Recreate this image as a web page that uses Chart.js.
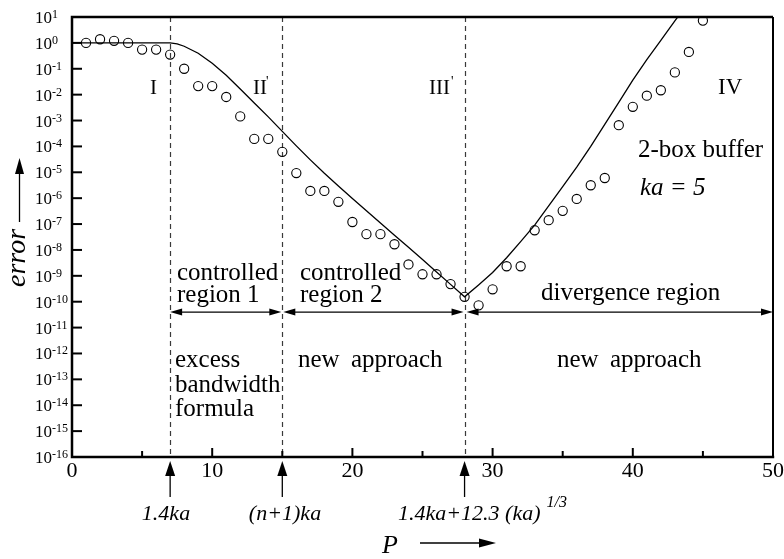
<!DOCTYPE html>
<html>
<head>
<meta charset="utf-8">
<script src="https://cdn.jsdelivr.net/npm/chart.js@4"></script>
<style>
  html, body { margin: 0; padding: 0; background: #fff; }
  #wrap { width: 784px; height: 559px; }
</style>
</head>
<body>
<div id="wrap"><canvas id="c" width="784" height="559"></canvas></div>
<script>
// Sampled error (circles): P and log10(error)
const samplePs = [1, 2, 3, 4, 5, 6, 7, 8, 9, 10, 11, 12, 13, 14, 15, 16, 17, 18, 19, 20,
  21, 22, 23, 24, 25, 26, 27, 28, 29, 30, 31, 32, 33, 34, 35, 36, 37, 38, 39, 40,
  41, 42, 43, 44, 45];
const sampleLogErr = [0.0, 0.14, 0.08, 0.0, -0.26, -0.26, -0.45, -1.0, -1.67, -1.67,
  -2.09, -2.84, -3.71, -3.71, -4.21, -5.03, -5.72, -5.72, -6.14, -6.92,
  -7.39, -7.39, -7.78, -8.56, -8.94, -8.94, -9.32, -9.81, -10.14, -9.52,
  -8.63, -8.63, -7.24, -6.85, -6.49, -6.03, -5.50, -5.22, -3.18, -2.47,
  -2.04, -1.83, -1.14, -0.35, 0.86];

// Estimated error (solid curve): P and log10(error)
const curvePs = [0, 7, 7.5, 8, 9, 10, 11, 12, 13, 14, 15, 16, 17, 18, 19, 20, 21, 22, 23, 24,
  25, 26, 27, 28, 29, 30, 31, 32, 33, 34, 35, 36, 37, 38, 39, 40, 41, 42, 43, 43.2];
const curveLogErr = [0, 0, -0.04, -0.13, -0.4, -0.79, -1.25, -1.78, -2.32, -2.86, -3.42,
  -3.98, -4.52, -5.04, -5.53, -6.01, -6.49, -6.96, -7.43, -7.9, -8.37, -8.85, -9.33, -9.81,
  -9.35, -8.87, -8.3, -7.68, -7.04, -6.3, -5.55, -4.8, -4.0, -3.15, -2.3, -1.44, -0.65,
  0.1, 0.85, 1.0];

// Axis ticks
const xTickValues = [0, 5, 10, 15, 20, 25, 30, 35, 40, 45, 50];
const xTickLabels = ['0', '', '10', '', '20', '', '30', '', '40', '', '50'];
const yDecades = [1, 0, -1, -2, -3, -4, -5, -6, -7, -8, -9, -10, -11, -12, -13, -14, -15, -16];

// Region boundaries and their formulas
const boundaryPs = [7, 15, 28];
const boundaryLabels = ['1.4ka', '(n+1)ka', '1.4ka+12.3 (ka)'];
const boundaryLabelSup = ['', '', '1/3'];

const SERIF = '"Liberation Serif", "Times New Roman", serif';

function toPoints(xs, ys) { return xs.map((x, i) => ({ x: x, y: ys[i] })); }

function arrowHead(ctx, tx, ty, dir, len, half) {
  // dir: 'l', 'r' or 'u'
  ctx.beginPath();
  if (dir === 'l') { ctx.moveTo(tx, ty); ctx.lineTo(tx + len, ty - half); ctx.lineTo(tx + len, ty + half); }
  else if (dir === 'r') { ctx.moveTo(tx, ty); ctx.lineTo(tx - len, ty - half); ctx.lineTo(tx - len, ty + half); }
  else { ctx.moveTo(tx, ty); ctx.lineTo(tx - half, ty + len); ctx.lineTo(tx + half, ty + len); }
  ctx.closePath();
  ctx.fill();
}

const decorations = {
  id: 'decorations',
  beforeDatasetsDraw(chart) {
    const { ctx, chartArea: a, scales: { x: xs } } = chart;
    ctx.save();
    ctx.strokeStyle = '#3a3a3a';
    ctx.lineWidth = 1.2;
    ctx.setLineDash([5, 4]);
    boundaryPs.forEach(p => {
      const px = Math.round(xs.getPixelForValue(p)) + 0.5;
      ctx.beginPath();
      ctx.moveTo(px, a.top);
      ctx.lineTo(px, a.bottom);
      ctx.stroke();
    });
    ctx.restore();
  },
  afterDraw(chart) {
    const { ctx, chartArea: a, scales: { x: xs, y: ys } } = chart;
    ctx.save();
    ctx.fillStyle = '#000';
    ctx.strokeStyle = '#000';

    // frame
    ctx.lineWidth = 2.5;
    ctx.beginPath();
    ctx.moveTo(a.left, a.top); ctx.lineTo(a.right, a.top);
    ctx.moveTo(a.left, a.top - 1.2); ctx.lineTo(a.left, a.bottom + 1.2);
    ctx.moveTo(a.left - 1.2, a.bottom); ctx.lineTo(a.right + 1.2, a.bottom);
    ctx.stroke();
    ctx.lineWidth = 2;
    ctx.beginPath();
    ctx.moveTo(a.right, a.top); ctx.lineTo(a.right, a.bottom);
    ctx.stroke();

    // y ticks and power-of-ten labels
    ctx.lineWidth = 2;
    yDecades.forEach(d => {
      const py = ys.getPixelForValue(d);
      ctx.beginPath();
      ctx.moveTo(a.left, py); ctx.lineTo(a.left + 10, py);
      ctx.stroke();
      ctx.font = '17px ' + SERIF;
      ctx.textAlign = 'left';
      ctx.textBaseline = 'alphabetic';
      ctx.fillText('10', 35, py + 6);
      const w = ctx.measureText('10').width;
      ctx.font = '12px ' + SERIF;
      ctx.fillText(String(d), 35 + w, py + 1);
    });

    // x ticks and labels
    xTickValues.forEach((v, i) => {
      const px = xs.getPixelForValue(v);
      const len = xTickLabels[i] ? 9 : 6;
      ctx.beginPath();
      ctx.moveTo(px, a.bottom); ctx.lineTo(px, a.bottom - len);
      ctx.stroke();
      if (xTickLabels[i]) {
        ctx.font = '22px ' + SERIF;
        ctx.textAlign = 'center';
        ctx.fillText(xTickLabels[i], px, 477);
      }
    });

    // region numerals
    ctx.textAlign = 'left';
    ctx.font = '21px ' + SERIF;
    ctx.fillText('I', 150, 94);
    ctx.fillText('II', 253, 94);
    ctx.fillText('III', 429, 94);
    ctx.font = '14px ' + SERIF;
    ctx.fillText('\'', 266, 86);
    ctx.fillText('\'', 451, 86);
    ctx.font = '23px ' + SERIF;
    ctx.fillText('IV', 718, 94);

    // case description
    ctx.font = '25px ' + SERIF;
    ctx.fillText('2-box buffer', 638, 157);
    ctx.font = 'italic 25px ' + SERIF;
    ctx.fillText('ka = 5', 640, 195);

    // region texts
    ctx.font = '25px ' + SERIF;
    ctx.fillText('controlled', 177, 280);
    ctx.fillText('region 1', 177, 302);
    ctx.fillText('controlled', 300, 280);
    ctx.fillText('region 2', 300, 302);
    ctx.fillText('divergence region', 541, 300);
    ctx.fillText('excess', 175, 367);
    ctx.fillText('bandwidth', 175, 392);
    ctx.fillText('formula', 175, 416);
    ctx.wordSpacing = '5px';
    ctx.fillText('new approach', 298, 367);
    ctx.fillText('new approach', 557, 367);
    ctx.wordSpacing = '0px';

    // region extent arrows
    const rowY = ys.getPixelForValue(-10.4);
    const bx = boundaryPs.map(p => xs.getPixelForValue(p));
    const spans = [[bx[0], bx[1] - 1], [bx[1] + 1, bx[2] - 1], [bx[2] + 2, a.right]];
    ctx.lineWidth = 1.3;
    spans.forEach(([l, r]) => {
      ctx.beginPath();
      ctx.moveTo(l + 4, rowY); ctx.lineTo(r - 4, rowY);
      ctx.stroke();
      arrowHead(ctx, l, rowY, 'l', 12, 3.5);
      arrowHead(ctx, r, rowY, 'r', 12, 3.5);
    });

    // boundary markers under the axis
    boundaryPs.forEach(p => {
      const px = xs.getPixelForValue(p);
      ctx.beginPath();
      ctx.moveTo(px, 497); ctx.lineTo(px, 470);
      ctx.stroke();
      arrowHead(ctx, px, 461, 'u', 15, 5);
    });
    ctx.font = 'italic 22px ' + SERIF;
    ctx.textAlign = 'center';
    ctx.fillText(boundaryLabels[0], 166, 520);
    ctx.fillText(boundaryLabels[1], 285, 520);
    ctx.textAlign = 'left';
    ctx.fillText(boundaryLabels[2], 398, 520);
    const w3 = ctx.measureText(boundaryLabels[2]).width;
    ctx.font = 'italic 16px ' + SERIF;
    ctx.fillText(boundaryLabelSup[2], 398 + w3 + 6, 507);

    // axis titles
    ctx.font = 'italic 26px ' + SERIF;
    ctx.fillText('P', 382, 553);
    ctx.beginPath();
    ctx.moveTo(420, 543); ctx.lineTo(480, 543);
    ctx.stroke();
    arrowHead(ctx, 496, 543, 'r', 17, 4.5);

    ctx.save();
    ctx.translate(25, 258);
    ctx.rotate(-Math.PI / 2);
    ctx.font = 'italic 28px ' + SERIF;
    ctx.textAlign = 'center';
    ctx.fillText('error', 0, 0);
    ctx.restore();
    ctx.beginPath();
    ctx.moveTo(19.5, 222); ctx.lineTo(19.5, 170);
    ctx.stroke();
    arrowHead(ctx, 19.5, 158, 'u', 16, 4.5);

    ctx.restore();
  }
};

new Chart(document.getElementById('c'), {
  type: 'scatter',
  data: {
    datasets: [
      {
        label: 'estimate',
        data: toPoints(curvePs, curveLogErr),
        showLine: true,
        borderColor: '#000',
        borderWidth: 1.3,
        pointRadius: 0,
        tension: 0,
        fill: false
      },
      {
        label: 'sampled',
        data: toPoints(samplePs, sampleLogErr),
        showLine: false,
        pointStyle: 'circle',
        pointRadius: 4.6,
        pointBorderWidth: 1.1,
        borderColor: '#000',
        pointBorderColor: '#000',
        backgroundColor: 'rgba(0,0,0,0)',
        pointBackgroundColor: 'rgba(0,0,0,0)'
      }
    ]
  },
  options: {
    responsive: false,
    animation: false,
    devicePixelRatio: 1,
    layout: { padding: { left: 72, right: 11, top: 17, bottom: 102 } },
    plugins: { legend: { display: false }, tooltip: { enabled: false } },
    scales: {
      x: { type: 'linear', min: 0, max: 50, display: false },
      y: { type: 'linear', min: -16, max: 1, display: false }
    }
  },
  plugins: [decorations]
});
</script>
</body>
</html>
